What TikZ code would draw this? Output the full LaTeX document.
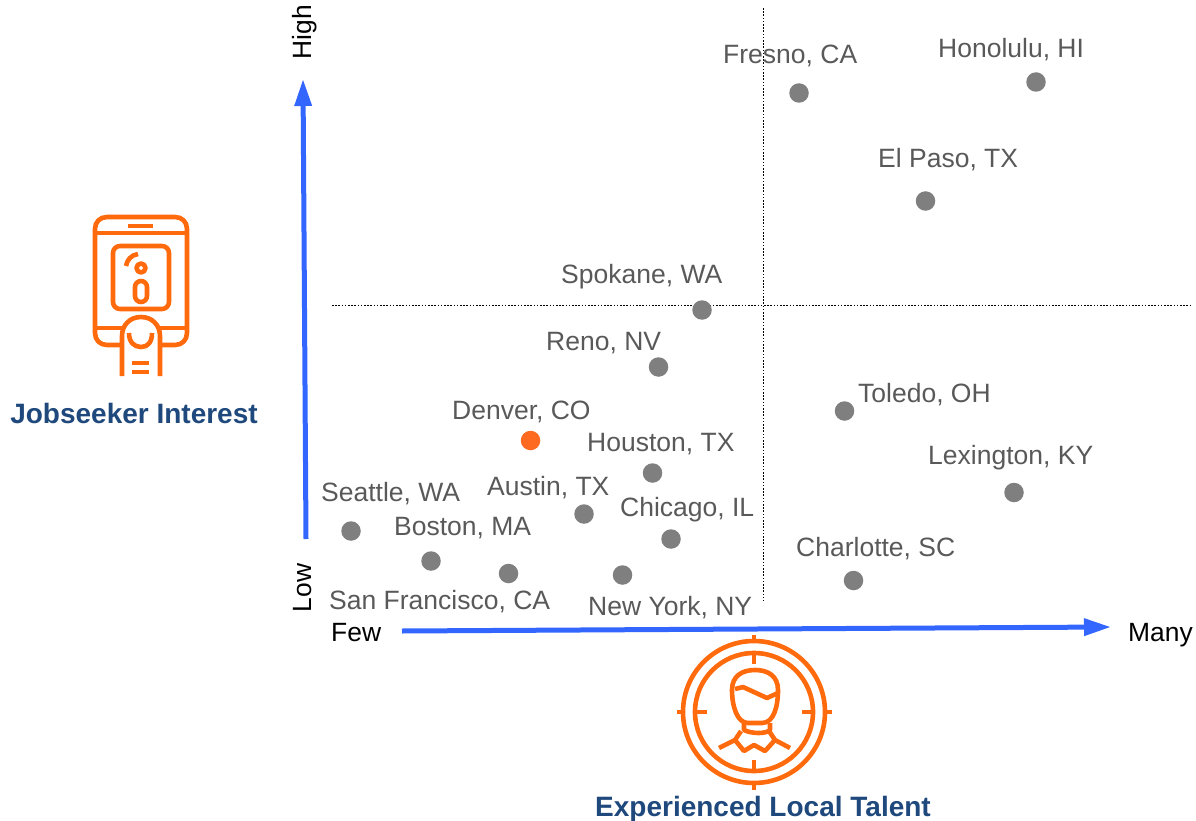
\documentclass[tikz,border=0pt]{standalone}
\usepackage{fontspec}
\setmainfont{Liberation Sans}
\usetikzlibrary{arrows.meta}
\definecolor{dotgray}{HTML}{7F7F7F}
\definecolor{labelgray}{HTML}{595959}
\definecolor{iconorange}{HTML}{FF6A0D}
\definecolor{dotorange}{HTML}{FF6A21}
\definecolor{axisblue}{HTML}{3366FF}
\definecolor{titlenavy}{HTML}{1F497D}
\tikzset{
  city/.style={circle,fill=dotgray,inner sep=0pt,minimum size=19.5pt},
  hotcity/.style={circle,fill=dotorange,inner sep=0pt,minimum size=19.5pt},
  citylabel/.style={anchor=base west,inner sep=0pt,text=labelgray,font=\fontsize{26.5pt}{27pt}\selectfont},
  axislabel/.style={inner sep=0pt,text=black,font=\fontsize{26.4pt}{27pt}\selectfont},
  titlelabel/.style={inner sep=0pt,text=titlenavy,font=\fontsize{28pt}{29pt}\selectfont\bfseries},
  axisline/.style={axisblue,line width=5pt,-{Triangle[length=27pt,width=16.5pt]}},
  guide/.style={black,line width=1pt,dash pattern=on 1.6pt off 1.6pt},
  icon/.style={iconorange,line width=4.6pt,line cap=butt,line join=round},
}
\begin{document}
\begin{tikzpicture}[x=1pt,y=-1pt]
\useasboundingbox (0,0) rectangle (1196,821);
% guides
\coordinate (vtop) at (763,8); \coordinate (vbot) at (763,601);
\coordinate (hleft) at (332,305); \coordinate (hright) at (1192,305);
\draw[guide] (vtop) -- (vbot);
\draw[guide] (hleft) -- (hright);
% axes
\coordinate (ya) at (306,539); \coordinate (yb) at (303,79);
\coordinate (xa) at (402,631); \coordinate (xb) at (1111,627);
\draw[axisline] (ya) -- (yb);
\draw[axisline] (xa) -- (xb);
% dots
\node[city] (fresno) at (799,93) {};
\node[city] (honolulu) at (1036,82) {};
\node[city] (elpaso) at (925.5,201) {};
\node[city] (spokane) at (702,310) {};
\node[city] (reno) at (658.5,367) {};
\node[hotcity] (denver) at (530.5,440.5) {};
\node[city] (toledo) at (844.5,411) {};
\node[city] (houston) at (652.5,473) {};
\node[city] (lexington) at (1014,492.5) {};
\node[city] (austin) at (584,514) {};
\node[city] (seattle) at (351,531) {};
\node[city] (chicago) at (671,539) {};
\node[city] (boston) at (431,561) {};
\node[city] (sanfran) at (508.5,573.5) {};
\node[city] (newyork) at (622.5,575) {};
\node[city] (charlotte) at (853.5,580.5) {};
% labels
\node[citylabel] (lfresno) at (723,64) {Fresno, CA};
\node[citylabel] (lhonolulu) at (938,57.5) {Honolulu, HI};
\node[citylabel] (lelpaso) at (878,167.5) {El Paso, TX};
\node[citylabel] (lspokane) at (561,283) {Spokane, WA};
\node[citylabel] (lreno) at (546,350) {Reno, NV};
\node[citylabel] (ldenver) at (452,419) {Denver, CO};
\node[citylabel] (ltoledo) at (858,402.5) {Toledo, OH};
\node[citylabel] (lhouston) at (587,451) {Houston, TX};
\node[citylabel] (llexington) at (928,464) {Lexington, KY};
\node[citylabel] (laustin) at (487,495.5) {Austin, TX};
\node[citylabel] (lseattle) at (321,501.5) {Seattle, WA};
\node[citylabel] (lchicago) at (620,516) {Chicago, IL};
\node[citylabel] (lboston) at (394,535) {Boston, MA};
\node[citylabel] (lcharlotte) at (796,556) {Charlotte, SC};
\node[citylabel] (lsanfran) at (329,609.5) {San Francisco, CA};
\node[citylabel] (lnewyork) at (588,615) {New York, NY};
% axis words
\node[axislabel,anchor=base west] (few) at (331,641) {Few};
\node[axislabel,anchor=base west] (many) at (1128,641) {Many};
\node[axislabel,rotate=90,anchor=base] (high) at (311,32) {High};
\node[axislabel,rotate=90,anchor=base] (low) at (311,588) {Low};
\node[titlelabel,anchor=base] (jobseeker) at (134,423) {Jobseeker Interest};
\node[titlelabel,anchor=base] (talent) at (763,816) {Experienced Local Talent};
% phone icon
\begin{scope}[icon]
\draw (122,345) -- (107,345) .. controls (100,345) and (95,340) .. (95,333) -- (95,229) .. controls (95,222) and (100,217) .. (107,217) -- (175,217) .. controls (182,217) and (187,222) .. (187,229) -- (187,333) .. controls (187,340) and (182,345) .. (175,345) -- (160,345);
\draw (95,233) -- (187,233);
\draw (128,226) -- (153,226);
\draw (95,328) -- (125,328);
\draw (157,328) -- (187,328);
\draw[rounded corners=7pt] (113,246) rectangle (169,309);
\draw (141,268) circle[radius=4.5];
\draw[rounded corners=6pt] (135,281) rectangle (147,302);
\draw (126,266) .. controls (127,260) and (131,255) .. (138,254);
\draw (122,376) -- (122,336) .. controls (122,325) and (130,317) .. (141,317) .. controls (152,317) and (160,325) .. (160,336) -- (160,376);
\draw (129,333) .. controls (129,342) and (134,347) .. (141,347) .. controls (148,347) and (152,342) .. (152,333);
\draw (132,363) -- (149,363);
\draw (132,372) -- (149,372);
\end{scope}
% target icon
\begin{scope}[icon]
\coordinate (tc) at (754,712);
\draw (tc) circle[radius=71];
\draw (tc) circle[radius=59];
\draw (754,635) -- (754,642); \draw (754,655) -- (754,664);
\draw (754,760) -- (754,771); \draw (754,783) -- (754,790);
\draw (677,712) -- (684,712); \draw (695,712) -- (707,712);
\draw (802,712) -- (814,712); \draw (825,712) -- (832,712);
% head
\draw (755,670) .. controls (768,670) and (778,676) .. (778,690) .. controls (778,706) and (774,723) .. (762,723) -- (748,723) .. controls (737,723) and (732,706) .. (732,690) .. controls (732,676) and (742,670) .. (755,670);
\draw (735,689) -- (743,687) -- (767,698) -- (778,693);
% neck and collar
\draw (744,723) -- (744,730) .. controls (752,734) and (766,734) .. (770,730) -- (770,723);
\draw (741,731) -- (735,740) -- (719,748);
\draw (769,731) -- (775,740) -- (790,748);
\draw (735,740) -- (744,751) -- (754,745) -- (765,751) -- (775,740);
\end{scope}
\end{tikzpicture}
\end{document}
